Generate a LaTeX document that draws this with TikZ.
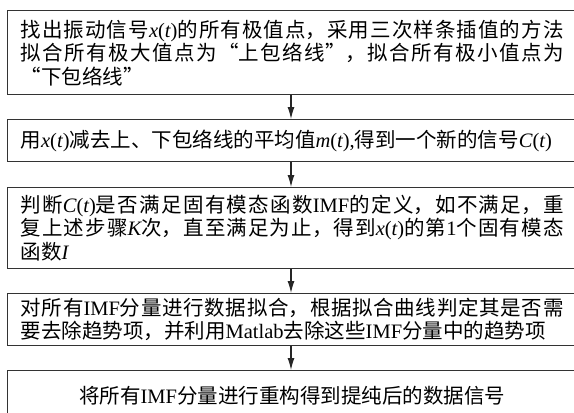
\documentclass[tikz,border=0pt]{standalone}
\usepackage{fontspec}
\setmainfont{Liberation Serif}
\newfontfamily\cjk{Noto Sans CJK SC}
\usetikzlibrary{arrows.meta}
\XeTeXlinebreaklocale "zh"
\XeTeXlinebreakskip=0pt plus 3pt minus 0.5pt
\newcommand\lt[1]{{\rmfamily #1}}
\newcommand\li[1]{{\rmfamily\itshape #1}}
\newcommand\fn[2]{\li{#1}\lt{(}\li{#2}\lt{)}}
\tikzset{
  box/.style={draw=black!80, line width=1.3pt, rectangle, anchor=north west,
    inner xsep=13pt, inner ysep=0pt, text width=543pt, align=justify,
    font=\cjk\fontsize{20.5}{23.5}\selectfont},
  arr/.style={draw=black!85, line width=1.1pt, -{Latex[length=12pt,width=7pt]}}
}
\begin{document}
\begin{tikzpicture}[x=1pt,y=-1pt]
\useasboundingbox (0,0) rectangle (574,413);
\coordinate (ax) at (291,0);
\node[box, minimum height=84pt] (b1) at (7,10)
 {找出振动信号\fn{x}{t}的所有极值点，采用三次样条插值的方法\linebreak
  拟合所有极大值点为“上包络线”，拟合所有极小值点为\linebreak
  “下包络线”};
\node[box, minimum height=42pt, text width=560pt, align=left] (b2) at (7,119)
 {用\fn{x}{t}减去上、下包络线的平均值\fn{m}{t}\lt{,}得到一个新的信号\fn{C}{t}};
\node[box, minimum height=81pt] (b3) at (7,187)
 {判断\fn{C}{t}是否满足固有模态函数\lt{IMF}的定义，如不满足，重\linebreak
  复上述步骤\li{K}次，直至满足为止，得到\fn{x}{t}的第\lt{1}个固有模态\linebreak
  函数\li{I}};
\node[box, minimum height=52pt] (b4) at (7,293)
 {对所有\lt{IMF}分量进行数据拟合，根据拟合曲线判定其是否需\linebreak
  要去除趋势项，并利用\lt{Matlab}去除这些\lt{IMF}分量中的趋势项};
\node[box, minimum height=50pt, align=center] (b5) at (7,370)
 {\mbox{将所有\lt{IMF}分量进行重构得到提纯后的数据信号}};
\draw[arr] (b1.south -| ax) -- (b2.north -| ax);
\draw[arr] (b2.south -| ax) -- (b3.north -| ax);
\draw[arr] (b3.south -| ax) -- (b4.north -| ax);
\draw[arr] (b4.south -| ax) -- (b5.north -| ax);
\end{tikzpicture}
\end{document}
